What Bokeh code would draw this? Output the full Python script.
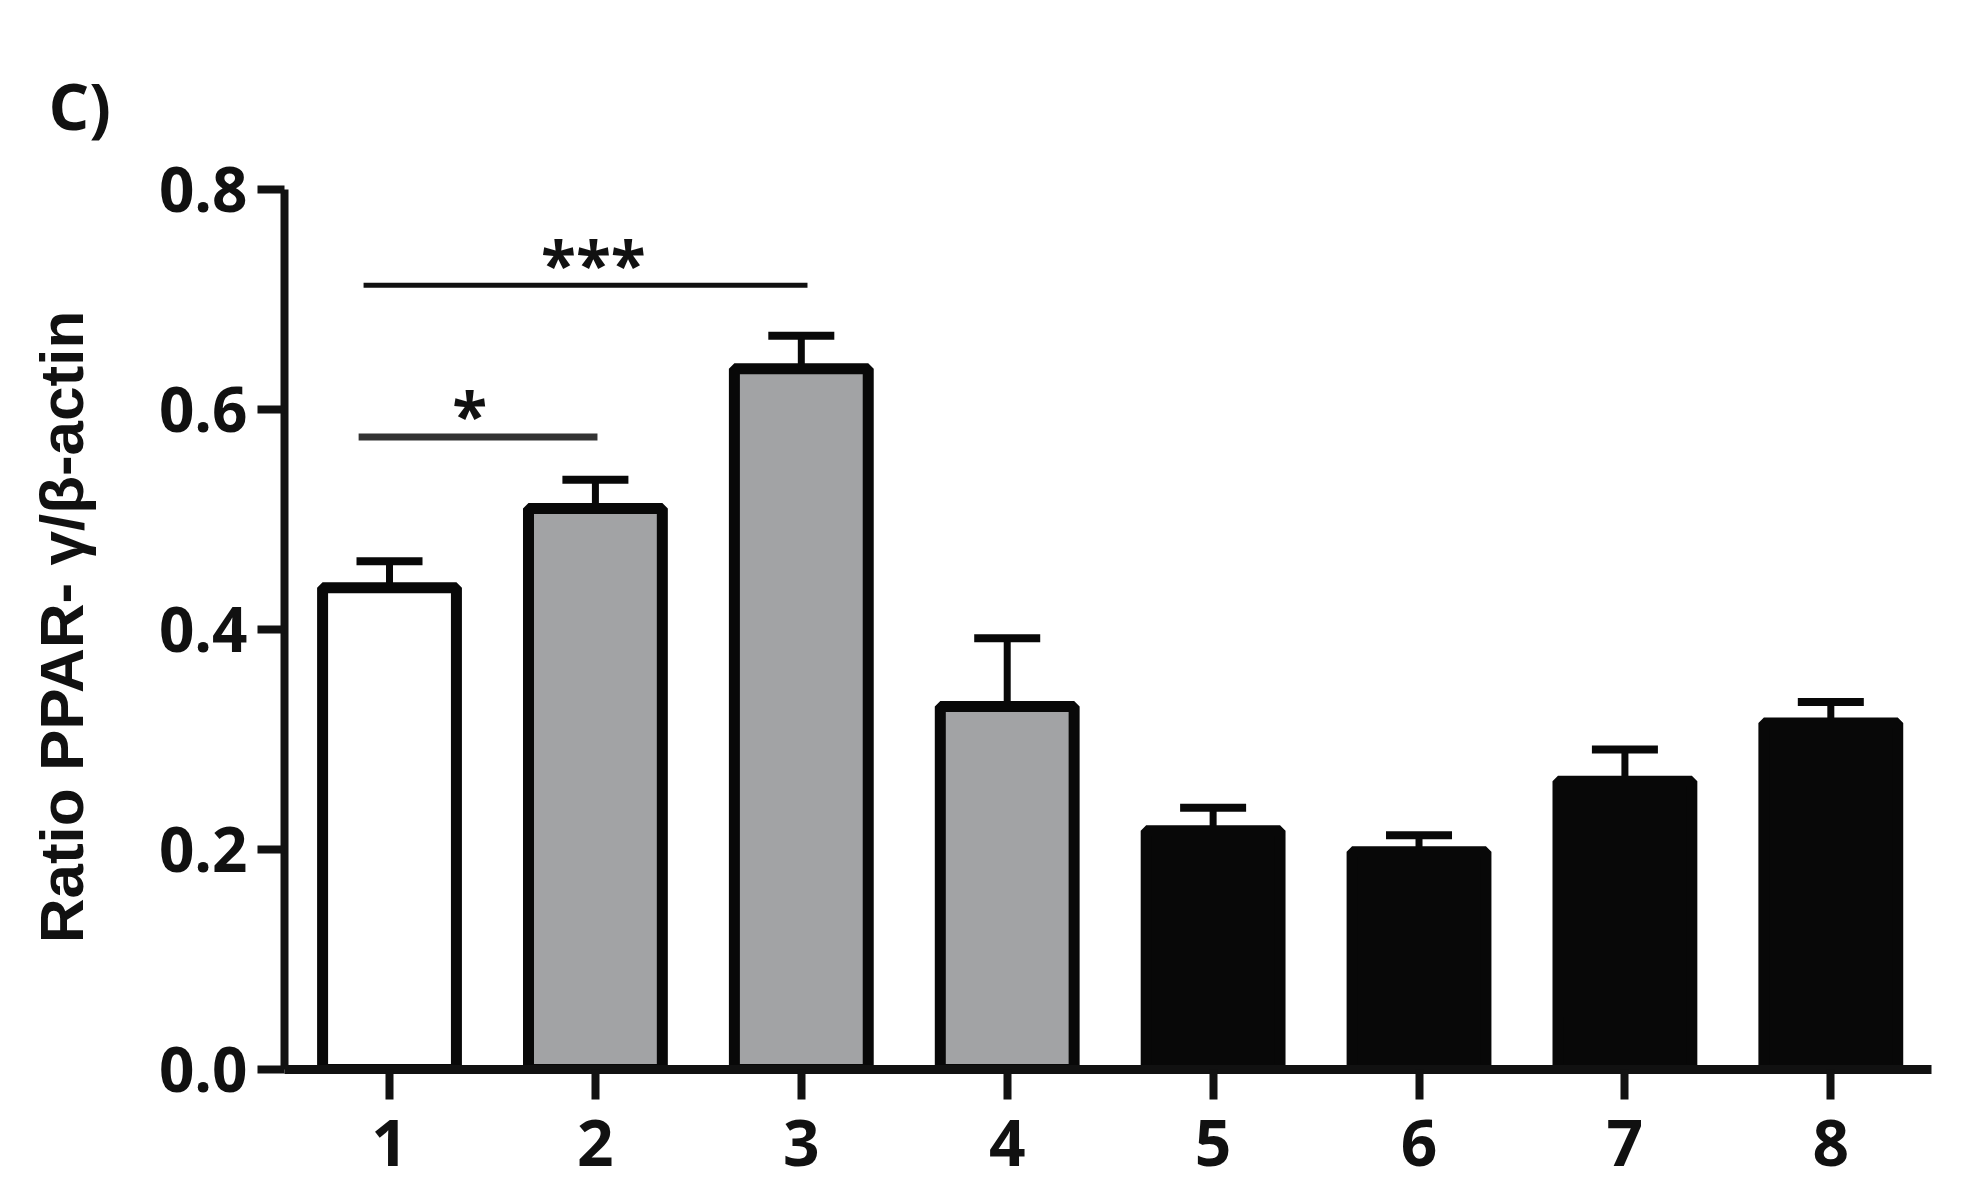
# -*- coding: utf-8 -*-
# PPAR-gamma / beta-actin ratio, bar chart with SEM and significance bars (panel C)

from bokeh.plotting import figure
from bokeh.models import (ColumnDataSource, FixedTicker, Whisker, TeeHead,
                          NumeralTickFormatter)
from bokeh.core.properties import value
from bokeh.embed import file_html
from bokeh.resources import INLINE

# data
groups = [1, 2, 3, 4, 5, 6, 7, 8]
means = [0.438, 0.510, 0.637, 0.330, 0.217, 0.198, 0.262, 0.315]
sem = [0.024, 0.026, 0.030, 0.062, 0.021, 0.015, 0.029, 0.019]
bar_colors = ["#ffffff", "#a2a3a5", "#a2a3a5", "#a2a3a5",
              "#080808", "#080808", "#080808", "#080808"]

# significance brackets: from group, to group, height, label
sig_x0 = [0.85, 0.874]
sig_x1 = [2.01, 3.03]
sig_y = [0.575, 0.713]
sig_text = ["*", "***"]
sig_text_x = [1.39, 1.99]
sig_text_y = [0.556, 0.693]

y_ticks = [0.0, 0.2, 0.4, 0.6, 0.8]

src = ColumnDataSource(data=dict(
    x=groups, top=means, color=bar_colors,
    upper=[m + s for m, s in zip(means, sem)],
))

p = figure(width=1951, height=1185,
           x_range=(0.49, 8.489), y_range=(0, 0.8045),
           output_backend="svg", toolbar_location=None,
           min_border_left=284, min_border_right=20,
           min_border_top=184, min_border_bottom=116)
p.outline_line_color = None
p.grid.visible = False
p.background_fill_color = "white"

# panel letter
p.title.text = "C)"
p.title.align = "left"
p.title.vertical_align = "top"
p.title.offset = -236
p.title.standoff = 68
p.title.text_font = "Open Sans"
p.title.text_font_style = "bold"
p.title.text_font_size = "64px"
p.title.text_color = "#111111"

# bars
p.vbar(x="x", top="top", bottom=0, width=0.65, source=src,
       fill_color="color", line_color="#080808", line_width=11)

# error bars (upper only)
p.add_layout(Whisker(base="x", lower="top", upper="upper", source=src,
                     line_color="#080808", line_width=7, lower_head=None,
                     upper_head=TeeHead(size=66, line_width=8, line_color="#080808")))

# significance lines and stars
p.segment(x0=sig_x0[0], y0=sig_y[0], x1=sig_x1[0], y1=sig_y[0],
          line_color="#333333", line_width=7)
p.segment(x0=sig_x0[1], y0=sig_y[1], x1=sig_x1[1], y1=sig_y[1],
          line_color="#111111", line_width=5)
p.text(x=sig_text_x, y=sig_text_y, text=sig_text,
       text_font=value("Open Sans"), text_font_style="bold",
       text_font_size="64px", text_color="#111111",
       text_align="center", text_baseline="bottom")

# axes
xa = p.xaxis[0]
xa.ticker = FixedTicker(ticks=groups)
xa.minor_tick_line_color = None
xa.major_tick_in = 0
xa.major_tick_out = 30
xa.major_tick_line_width = 8
xa.axis_line_width = 9
xa.axis_line_color = "#111111"
xa.major_tick_line_color = "#111111"
xa.major_label_text_font = "Open Sans"
xa.major_label_text_font_style = "bold"
xa.major_label_text_font_size = "64px"
xa.major_label_text_color = "#111111"
xa.major_label_standoff = 20

ya = p.yaxis[0]
ya.bounds = (0, 0.8)
ya.ticker = FixedTicker(ticks=y_ticks)
ya.formatter = NumeralTickFormatter(format="0.0")
ya.minor_tick_line_color = None
ya.major_tick_in = 0
ya.major_tick_out = 27
ya.major_tick_line_width = 8
ya.axis_line_width = 8
ya.axis_line_color = "#111111"
ya.major_tick_line_color = "#111111"
ya.major_label_text_font = "Open Sans"
ya.major_label_text_font_style = "bold"
ya.major_label_text_font_size = "62px"
ya.major_label_text_color = "#111111"
ya.major_label_standoff = 10
ya.axis_label = "Ratio PPAR- γ/β-actin"
ya.axis_label_text_font = "Liberation Sans"
ya.axis_label_text_font_style = "bold"
ya.axis_label_text_font_size = "62px"
ya.axis_label_text_color = "#111111"
ya.axis_label_standoff = 60

open("out.html", "w").write(file_html(p, INLINE))
